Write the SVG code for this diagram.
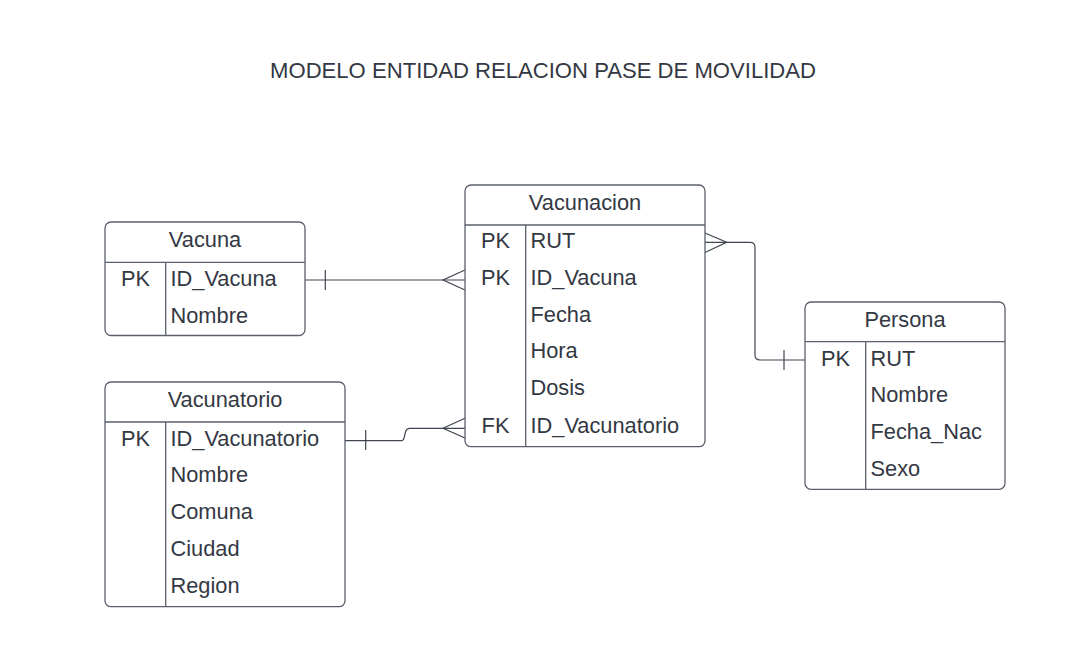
<svg xmlns="http://www.w3.org/2000/svg" width="1086" height="647" viewBox="0 0 1086 647">
<style>
.box{fill:#ffffff;stroke:#5b606c;stroke-width:1.3}
.div{stroke:#5b606c;stroke-width:1.3;fill:none}
.t{font-family:"Liberation Sans",Arial,sans-serif;font-size:21.8px;fill:#333843}
.c{text-anchor:middle}
.conn{stroke:#3f4450;stroke-width:1.2;fill:none}
.title{font-family:"Liberation Sans",Arial,sans-serif;font-size:22.1px;fill:#333843;text-anchor:middle}
</style>
<rect width="1086" height="647" fill="#ffffff"/>
<text class="title" x="543" y="78">MODELO ENTIDAD RELACION PASE DE MOVILIDAD</text>

<g id="connectors">
  <!-- Vacuna -> Vacunacion -->
  <path class="conn" d="M305,280 H465"/>
  <path class="conn" d="M325.3,270 V290"/>
  <path class="conn" d="M465,270 L443,280 L465,290"/>
  <!-- Vacunatorio -> Vacunacion -->
  <path class="conn" d="M345,440.7 H401 Q404,440.7 404.5,436 L405.5,432 Q406.5,428.3 410,428.3 H465"/>
  <path class="conn" d="M365.7,430 V450"/>
  <path class="conn" d="M465,418.3 L443,428.3 L465,438"/>
  <!-- Vacunacion -> Persona -->
  <path class="conn" d="M705,242.3 H750 Q755,242.3 755,247.3 V355 Q755,360 760,360 H805"/>
  <path class="conn" d="M705,233 L726.7,242.3 L705,252.5"/>
  <path class="conn" d="M784,350 V370"/>
</g>

<g id="vacuna">
  <rect class="box" x="105" y="222" width="200" height="113.5" rx="6"/>
  <path class="div" d="M105,262.3 H305 M165.7,262.3 V335.5"/>
  <text class="t c" x="205" y="247">Vacuna</text>
  <text class="t c" x="135.5" y="286">PK</text>
  <text class="t" x="170.5" y="286">ID_Vacuna</text>
  <text class="t" x="170.5" y="322.5">Nombre</text>
</g>

<g id="vacunatorio">
  <rect class="box" x="105" y="382" width="240" height="224.7" rx="6"/>
  <path class="div" d="M105,422 H345 M165.7,422 V606.7"/>
  <text class="t c" x="225" y="407.3">Vacunatorio</text>
  <text class="t c" x="135.5" y="445.7">PK</text>
  <text class="t" x="170.5" y="445.7">ID_Vacunatorio</text>
  <text class="t" x="170.5" y="482.4">Nombre</text>
  <text class="t" x="170.5" y="519.1">Comuna</text>
  <text class="t" x="170.5" y="555.8">Ciudad</text>
  <text class="t" x="170.5" y="592.5">Region</text>
</g>

<g id="vacunacion">
  <rect class="box" x="465" y="185" width="240" height="261.7" rx="6"/>
  <path class="div" d="M465,225 H705 M525.7,225 V446.7"/>
  <text class="t c" x="585" y="210">Vacunacion</text>
  <text class="t c" x="495.5" y="248.3">PK</text>
  <text class="t" x="530.5" y="248.3">RUT</text>
  <text class="t c" x="495.5" y="285">PK</text>
  <text class="t" x="530.5" y="285">ID_Vacuna</text>
  <text class="t" x="530.5" y="321.7">Fecha</text>
  <text class="t" x="530.5" y="358.4">Hora</text>
  <text class="t" x="530.5" y="395.1">Dosis</text>
  <text class="t c" x="495.5" y="433.3">FK</text>
  <text class="t" x="530.5" y="433.3">ID_Vacunatorio</text>
</g>

<g id="persona">
  <rect class="box" x="805" y="302" width="200" height="187.3" rx="6"/>
  <path class="div" d="M805,341.7 H1005 M865.7,341.7 V489.3"/>
  <text class="t c" x="905" y="326.7">Persona</text>
  <text class="t c" x="835.5" y="365.7">PK</text>
  <text class="t" x="870.5" y="365.7">RUT</text>
  <text class="t" x="870.5" y="402.4">Nombre</text>
  <text class="t" x="870.5" y="439.1">Fecha_Nac</text>
  <text class="t" x="870.5" y="475.8">Sexo</text>
</g>
</svg>
